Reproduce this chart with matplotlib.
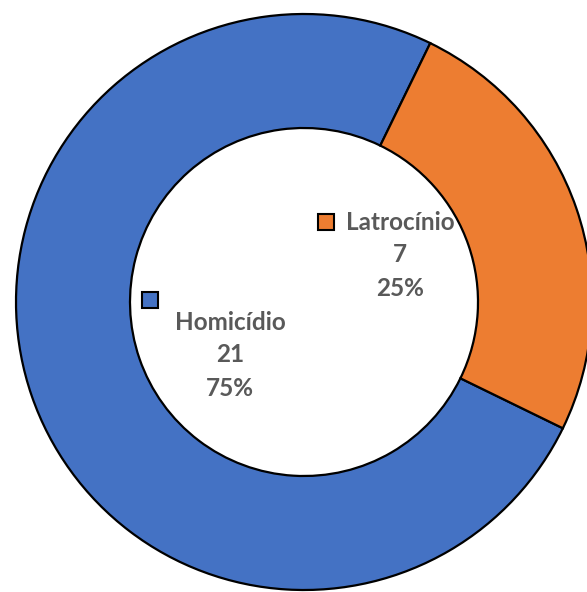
import matplotlib.pyplot as plt

categorias = ['Homicídio', 'Latrocínio']
valores = [21, 7]
cores = ['#4472C4', '#ED7D31']

W, H = 587, 592
fig = plt.figure(figsize=(W / 100, H / 100), dpi=100)
ax = fig.add_axes([0, 0, 1, 1])

# centro e raio em pixels (y contado de baixo)
cx, cy = 304, H - 302
raio = 288
largura = 1 - 174 / 288

ax.pie(valores, colors=cores, startangle=64, counterclock=True,
       center=(cx, cy), radius=raio,
       wedgeprops=dict(width=raio * largura, edgecolor='black', linewidth=1.6))

total = sum(valores)
# posição do rótulo (centro do texto) e do marcador, em pixels a partir do topo
rotulos = {'Homicídio': ((230, 322), (150, 300)),
           'Latrocínio': ((400, 222), (326, 222))}
for nome, v, cor in zip(categorias, valores, cores):
    (tx, ty), (mx, my) = rotulos[nome]
    linhas = [nome, str(v), f'{round(100 * v / total)}%']
    for i, t in enumerate(linhas):
        ax.text(tx, H - (ty + 33 * i), t, ha='center', va='center',
                fontsize=17.5, fontweight='bold', color='#595959',
                family='Lato')
    ax.plot(mx, H - my, marker='s', markersize=11, color=cor,
            markeredgecolor='black', markeredgewidth=1.5)

ax.set_xlim(0, W)
ax.set_ylim(0, H)
ax.set_aspect('equal')
ax.axis('off')

fig.savefig('out.png', dpi=100)
